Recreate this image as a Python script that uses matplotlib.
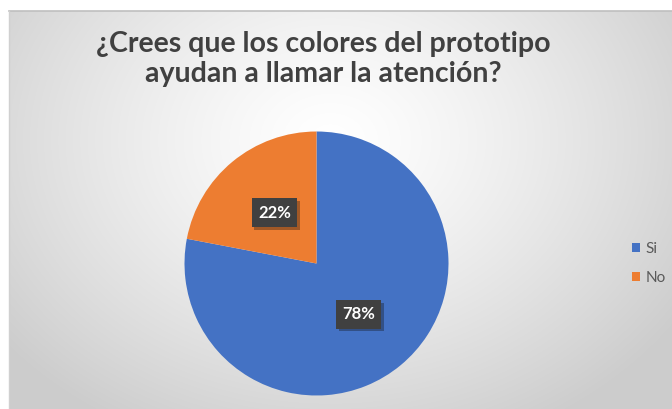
import numpy as np
import matplotlib
matplotlib.use('Agg')
import matplotlib.pyplot as plt
import matplotlib.patheffects as pe

# data
categories = ['Si', 'No']
values = [78, 22]
colors = ['#4472C4', '#ED7D31']
title_lines = ['¿Crees que los colores del prototipo', 'ayudan a llamar la atención?']

W, H = 672, 409
fig = plt.figure(figsize=(W / 100, H / 100), dpi=100)
fig.patch.set_facecolor('white')

# chart area background (radial gradient, light centre -> grey edges)
bx0, by_top = 9, 11
bg = fig.add_axes([bx0 / W, 0, 1 - bx0 / W, 1 - by_top / H])
yy, xx = np.mgrid[0:H - by_top, 0:W - bx0]
cx, cy = 330 - bx0, 140 - by_top
d = np.sqrt(((xx - cx) / 420.0) ** 2 + ((yy - cy) / 330.0) ** 2)
d = np.clip(d, 0, 1)
shade = 1.0 - 0.20 * d ** 1.3
img = np.dstack([shade, shade, shade])
bg.imshow(img, aspect='auto', interpolation='bilinear')
bg.set_axis_off()
fig.add_artist(plt.Line2D([bx0 / W, 1], [1 - by_top / H, 1 - by_top / H],
                          color='#bfbfbf', lw=1.2, transform=fig.transFigure))
fig.add_artist(plt.Line2D([bx0 / W, bx0 / W], [0, 1 - by_top / H],
                          color='#d0d0d0', lw=1.0, transform=fig.transFigure))

# title
fig.text(323.5 / W, 1 - 52 / H, title_lines[0], ha='center', va='baseline',
         fontsize=20.5, fontweight='bold', family='Lato', color='#404040')
fig.text(323.5 / W, 1 - 82 / H, title_lines[1], ha='center', va='baseline',
         fontsize=20.5, fontweight='bold', family='Lato', color='#404040')

# pie
pcx, pcy, r = 316.5, 263.5, 132
ax = fig.add_axes([(pcx - r) / W, (H - pcy - r) / H, 2 * r / W, 2 * r / H])
wedges, _ = ax.pie(values, colors=colors, startangle=90, counterclock=False,
                   radius=1, wedgeprops=dict(linewidth=0))
ax.set_xlim(-1, 1)
ax.set_ylim(-1, 1)
ax.set_axis_off()

# data labels with dark boxes and a small shadow
start = 90
for v in values:
    mid = np.deg2rad(start - v * 3.6 / 2)
    start -= v * 3.6
    lx, ly = 0.5 * np.cos(mid), 0.5 * np.sin(mid)
    t = ax.text(lx, ly, '%d%%' % v, ha='center', va='center', fontsize=12,
                fontweight='bold', family='Lato', color='white',
                bbox=dict(boxstyle='square,pad=0.38', fc='#404040', ec='none'))
    t.get_bbox_patch().set_path_effects(
        [pe.SimplePatchShadow(offset=(2, -2), alpha=0.35), pe.Normal()])

# legend
leg = fig.legend(wedges, categories, loc='center left',
                 bbox_to_anchor=(632 / W, 1 - 263.5 / H), frameon=False,
                 borderpad=0, borderaxespad=0,
                 handlelength=0.55, handleheight=0.55, handletextpad=0.35,
                 labelspacing=1.0, prop=dict(family='Lato', size=11))
for t in leg.get_texts():
    t.set_color('#595959')

fig.savefig('out.png', dpi=100)
